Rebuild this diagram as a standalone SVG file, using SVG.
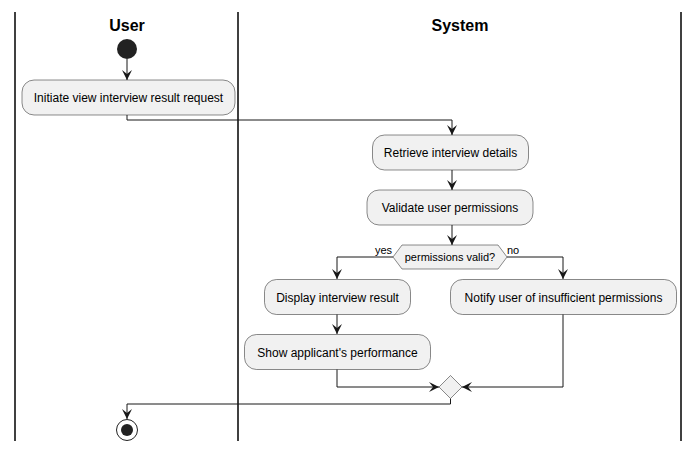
<svg xmlns="http://www.w3.org/2000/svg" width="698" height="452" viewBox="0 0 698 452">
<defs>
<style>
.lane{stroke:#000;stroke-width:1.5;fill:none}
.title{font-family:"Liberation Sans",Arial,sans-serif;font-size:16px;font-weight:bold;fill:#000;text-anchor:middle}
.act{fill:#F1F1F1;stroke:#181818;stroke-width:0.5}
.lbl{font-family:"Liberation Sans",Arial,sans-serif;font-size:12px;fill:#000;text-anchor:middle}
.small{font-family:"Liberation Sans",Arial,sans-serif;font-size:11px;fill:#000}
.edge{stroke:#181818;stroke-width:1;fill:none;marker-end:url(#ah)}
</style>
<marker id="ah" markerWidth="12" markerHeight="12" viewBox="0 0 12 12" refX="10" refY="5" orient="auto" markerUnits="userSpaceOnUse">
<path d="M0,0 L10,5 L0,10 L4,5 Z" fill="#181818"/>
</marker>
</defs>
<g id="lanes">
<line class="lane" x1="15" y1="12" x2="15" y2="441"/>
<line class="lane" x1="238" y1="12" x2="238" y2="441"/>
<line class="lane" x1="681" y1="12" x2="681" y2="441"/>
<text class="title" x="127" y="31">User</text>
<text class="title" x="460" y="31">System</text>
</g>
<g id="connectors">
<path class="edge" d="M127,59 L127,80"/>
<path class="edge" d="M127,115 L127,120 L452,120 L452,135"/>
<path class="edge" d="M452,170 L452,190"/>
<path class="edge" d="M452,225 L452,245"/>
<path class="edge" d="M393,257 L337,257 L337,279"/>
<path class="edge" d="M507,257 L563,257 L563,279"/>
<path class="edge" d="M337,314 L337,334"/>
<path class="edge" d="M337,369 L337,387 L439,387"/>
<path class="edge" d="M563,314 L563,387 L462,387"/>
<path class="edge" d="M450.5,398.5 L450.5,404 L127,404 L127,419"/>
<text class="small" x="375" y="254">yes</text>
<text class="small" x="507" y="254">no</text>
</g>
<g id="start"><circle cx="127" cy="49" r="10" fill="#222"/></g>
<g id="initiate"><rect class="act" x="22" y="80" width="213" height="35" rx="12"/><text class="lbl" x="128.5" y="102">Initiate view interview result request</text></g>
<g id="retrieve"><rect class="act" x="372.5" y="135" width="156" height="35" rx="12"/><text class="lbl" x="450.5" y="157">Retrieve interview details</text></g>
<g id="validate"><rect class="act" x="367" y="190" width="166" height="35" rx="12"/><text class="lbl" x="450" y="212">Validate user permissions</text></g>
<g id="decision"><polygon class="act" points="393,257 402,245 498,245 507,257 498,269 402,269"/><text class="small" x="450" y="261" text-anchor="middle">permissions valid?</text></g>
<g id="display"><rect class="act" x="264.5" y="279.5" width="146" height="35" rx="12"/><text class="lbl" x="337.5" y="301.5">Display interview result</text></g>
<g id="show"><rect class="act" x="244.5" y="334.5" width="186" height="35" rx="12"/><text class="lbl" x="337.5" y="356.5">Show applicant's performance</text></g>
<g id="notify"><rect class="act" x="450.5" y="279.5" width="226" height="35" rx="12"/><text class="lbl" x="563.5" y="301.5">Notify user of insufficient permissions</text></g>
<g id="merge"><polygon class="act" points="450.5,375.5 462,387 450.5,398.5 439,387"/></g>
<g id="end"><circle cx="127" cy="430" r="10.5" fill="none" stroke="#222" stroke-width="1"/><circle cx="127" cy="430" r="6" fill="#222"/></g>
</svg>
